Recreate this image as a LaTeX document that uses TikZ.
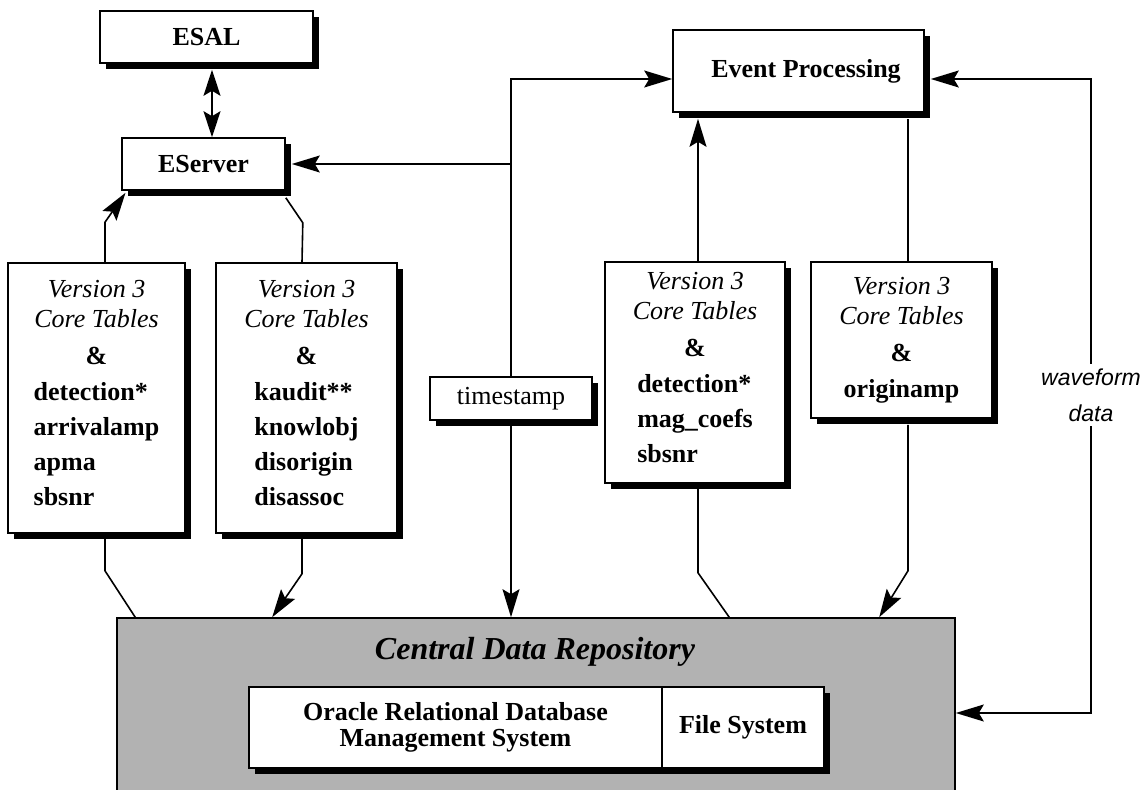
\documentclass[tikz,border=0pt]{standalone}
\usepackage{fontspec}
\setmainfont{Liberation Serif}
\setsansfont{Liberation Sans}
\usetikzlibrary{arrows.meta,shadows}

\newcommand{\corehead}{{\mdseries\itshape Version 3}\\[-2.5pt]{\mdseries\itshape Core Tables}\\[1pt]\&\\[0.5pt]}

\begin{document}
\begin{tikzpicture}[x=0.5pt,y=-0.5pt,line width=0.8pt,
  box/.style={draw,fill=white,inner sep=0pt,
    drop shadow={shadow xshift=3pt,shadow yshift=-3pt,fill=black,opacity=1},
    font=\fontsize{13}{17.5}\selectfont\bfseries},
  tbl/.style={box,align=center},
  arr/.style={-{Stealth[length=14pt,width=8.5pt,inset=2.5pt]}},
  arrboth/.style={{Stealth[length=13pt,width=8.5pt,inset=2.5pt]}-{Stealth[length=13pt,width=8.5pt,inset=2.5pt]}}]
\useasboundingbox (0,0) rectangle (1144,790);
\clip (0,0) rectangle (1144,790);

% repository
\node[draw,fill=black!30,inner sep=0pt,minimum width=419pt,minimum height=91pt] (cdr) at (536,709) {};
\node[font=\fontsize{16}{18}\selectfont\bfseries\itshape] (cdrlbl) at (535,652) {Central Data Repository};
\node[box,align=center,minimum width=206.5pt,minimum height=40.5pt,font=\fontsize{13}{13}\selectfont\bfseries] (oracle) at (455.5,727.5) {Oracle Relational Database\\Management System};
\node[box,minimum width=81pt,minimum height=40.5pt] (filesys) at (743,727.5) {File System};

% upper boxes
\node[box,minimum width=106.5pt,minimum height=26pt] (esal) at (206.5,37) {ESAL};
\node[box,minimum width=81.5pt,minimum height=26pt] (eserver) at (203.5,164) {EServer};
\node[box,minimum width=125.5pt,minimum height=41pt] (evproc) at (798.5,71) {\hspace{7.5pt}Event Processing};

% core tables
\node[tbl,minimum width=88.5pt,minimum height=135pt] (tab1) at (96.5,398)
  {\corehead\begin{tabular}[t]{@{}l@{}}detection*\\arrivalamp\\apma\\sbsnr\end{tabular}};
\node[tbl,minimum width=90.5pt,minimum height=135pt] (tab2) at (306.5,398)
  {\corehead\begin{tabular}[t]{@{}l@{}}kaudit**\\knowlobj\\disorigin\\disassoc\end{tabular}};
\node[tbl,minimum width=90pt,minimum height=110.5pt] (tab3) at (695,372.5)
  {\corehead\begin{tabular}[t]{@{}l@{}}detection*\\mag\_coefs\\sbsnr\end{tabular}};
\node[tbl,minimum width=90.5pt,minimum height=78pt] (tab4) at (901.5,340)
  {\corehead originamp};

\node[box,minimum width=81pt,minimum height=21.5pt,font=\fontsize{13}{15}\selectfont] (tstamp) at (511,398.5) {timestamp};
\node[align=center,inner sep=2pt,font=\fontsize{11.5}{18}\selectfont\sffamily\itshape] (wave) at (1091,395) {waveform\\data};

% ESAL link
\draw[arrboth] ([xshift=2.75pt,yshift=-3pt]esal.south) -- ([xshift=2.75pt]esal.south |- eserver.north);

% timestamp line
\draw[arr] (tstamp.north) |- ([yshift=-4pt]evproc.west);
\draw[arr] (tstamp.north |- eserver.east) -- ([xshift=3pt]eserver.east);
\draw[arr] (tstamp.south) -- (tstamp.south |- cdr.north);

% tables and EServer
\draw[arr] ([xshift=4.25pt]tab1.north) -- ++(0,-40) -- ([xshift=-39pt,yshift=-1pt]eserver.south);
\draw ([yshift=-3.5pt]eserver.south east) -- ++(17,25) -- ([xshift=-2.25pt]tab2.north);
\draw ([xshift=4.25pt,yshift=-2.5pt]tab1.south) -- ++(0,32) -- ([xshift=9.5pt]cdr.north west);
\draw[arr] ([xshift=-2.25pt,yshift=-2.5pt]tab2.south) -- ++(0,35) -- ([xshift=78pt]cdr.north west);

% tables and Event Processing
\draw[arr] ([xshift=1.5pt]tab3.north) -- ([xshift=1.5pt,yshift=-3pt]tab3.north |- evproc.south);
\draw ([xshift=3.25pt]tab4.north) -- ([xshift=3.25pt,yshift=-3pt]tab4.north |- evproc.south);
\draw ([xshift=1.5pt,yshift=-2.5pt]tab3.south) -- ++(0,84) -- ([xshift=306.5pt]cdr.north west);
\draw[arr] ([xshift=3.25pt,yshift=-3pt]tab4.south) -- ++(0,146) -- ([xshift=381.5pt]cdr.north west);

% waveform data
\draw[arr] (wave.north) |- ([xshift=3pt,yshift=-4pt]evproc.east);
\draw[arr] (wave.south) |- ([yshift=-2pt]cdr.east);
\end{tikzpicture}
\end{document}
